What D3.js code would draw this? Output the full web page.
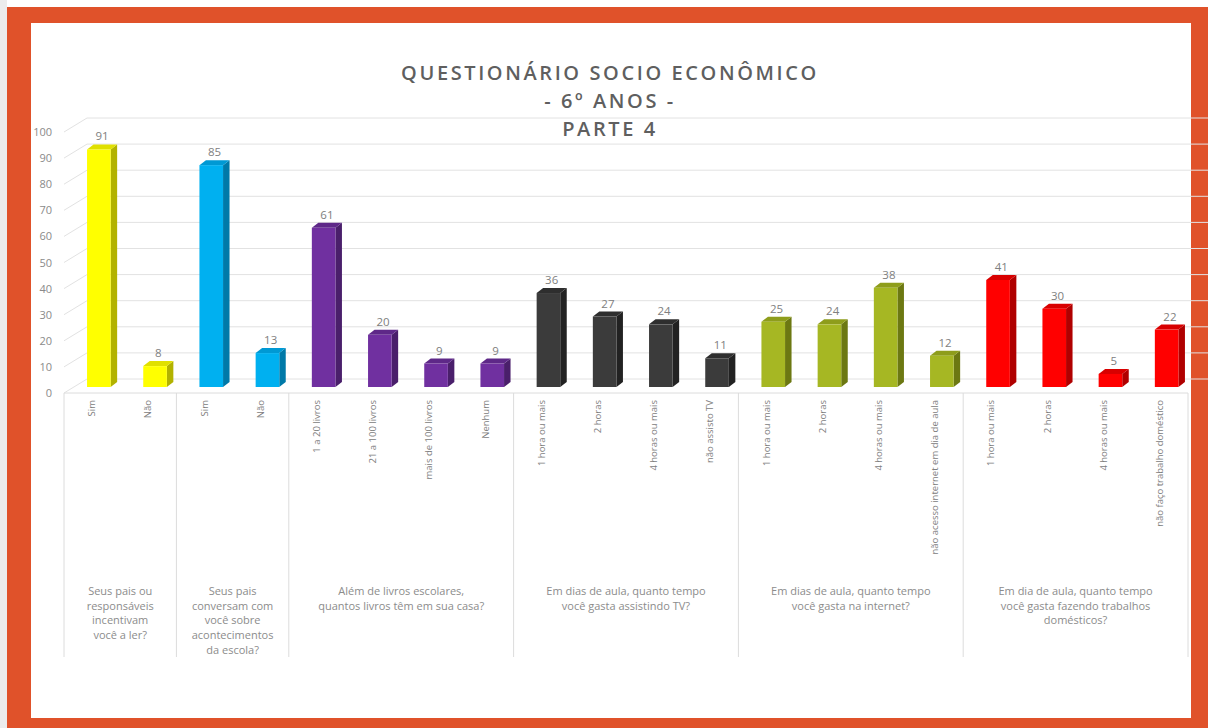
<!DOCTYPE html>
<html>
<head>
<meta charset="utf-8">
<script src="https://cdn.jsdelivr.net/npm/d3@7"></script>
<style>
  html, body { margin: 0; padding: 0; background: #ffffff; }
  svg { display: block; }
</style>
</head>
<body>
<svg id="chart" width="1208" height="728"></svg>
<script>
// Questionário socioeconômico – 6º anos – parte 4
const categories = [
  "Sim", "Não",
  "Sim", "Não",
  "1 a 20 livros", "21 a 100 livros", "mais de 100 livros", "Nenhum",
  "1 hora ou mais", "2 horas", "4 horas ou mais", "não assisto TV",
  "1 hora ou mais", "2 horas", "4 horas ou mais", "não acesso internet em dia de aula",
  "1 hora ou mais", "2 horas", "4 horas ou mais", "não faço trabalho doméstico"
];
const values = [91, 8, 85, 13, 61, 20, 9, 9, 36, 27, 24, 11, 25, 24, 38, 12, 41, 30, 5, 22];
const groupSizes = [2, 2, 4, 4, 4, 4];
const groupLabels = [
  ["Seus pais ou", "responsáveis", "incentivam", "você a ler?"],
  ["Seus pais", "conversam com", "você sobre", "acontecimentos", "da escola?"],
  ["Além de livros escolares,", "quantos livros têm em sua casa?"],
  ["Em dias de aula, quanto tempo", "você gasta assistindo TV?"],
  ["Em dias de aula, quanto tempo", "você gasta na internet?"],
  ["Em dia de aula, quanto tempo", "você gasta fazendo trabalhos", "domésticos?"]
];
const groupColors = [
  { front: "#ffff00", side: "#b2b200", top: "#e0e000" },
  { front: "#00b0f0", side: "#0079a8", top: "#0099d4" },
  { front: "#7030a0", side: "#4a1f6b", top: "#5e2888" },
  { front: "#3b3b3b", side: "#222222", top: "#2e2e2e" },
  { front: "#a6b723", side: "#6c7812", top: "#8e9d1b" },
  { front: "#ff0000", side: "#b00000", top: "#d80000" }
];
const yTicks = [0, 10, 20, 30, 40, 50, 60, 70, 80, 90, 100];
const titleLines = ["QUESTIONÁRIO SOCIO ECONÔMICO", "- 6º ANOS -", "PARTE 4"];

const svg = d3.select("#chart");
const W = 1208, H = 728;

// group index for every category
const groupOf = [];
groupSizes.forEach((n, g) => { for (let i = 0; i < n; i++) groupOf.push(g); });

// frame
svg.append("rect").attr("width", W).attr("height", H).attr("fill", "#ffffff");
svg.append("rect").attr("x", 0).attr("y", 0).attr("width", 7).attr("height", H).attr("fill", "#ececec");
svg.append("rect").attr("x", 7).attr("y", 7).attr("width", W - 7).attr("height", H - 7).attr("fill", "#e0522a");
svg.append("rect").attr("x", 31).attr("y", 23).attr("width", 1160).attr("height", 695).attr("fill", "#ffffff");

// scales
const x = d3.scaleBand().domain(d3.range(categories.length)).range([64, 1188]).padding(0);
const y = d3.scaleLinear().domain([0, 100]).range([393, 132]);
const bw = x.bandwidth();

// 3D wall offsets
const wallDX = 23, wallDY = -14;   // back wall
const barShift = -6;               // bars sit mid-depth
const dX = 6.5, dY = -5;           // bar depth

// back wall gridlines and left wall diagonals
const grid = svg.append("g");
yTicks.forEach(t => {
  grid.append("line")
    .attr("x1", 64 + wallDX).attr("x2", W)
    .attr("y1", y(t) + wallDY).attr("y2", y(t) + wallDY)
    .attr("stroke", "#e2e2e2").attr("stroke-width", 1);
  grid.append("line")
    .attr("x1", 64).attr("y1", y(t))
    .attr("x2", 64 + wallDX).attr("y2", y(t) + wallDY)
    .attr("stroke", "#e2e2e2").attr("stroke-width", 1);
});

// y axis labels
const yAxis = d3.axisLeft(y).tickValues(yTicks).tickSize(0).tickPadding(0);
const yG = svg.append("g").attr("transform", "translate(52,0)").call(yAxis);
yG.select(".domain").remove();
yG.selectAll("text")
  .attr("font-family", "Open Sans, sans-serif")
  .attr("font-size", 11)
  .attr("fill", "#8a8a8a");

// category table lines
const table = svg.append("g");
table.append("line")
  .attr("x1", 64).attr("x2", 1188).attr("y1", 393).attr("y2", 393)
  .attr("stroke", "#dcdcdc");
let start = 0;
const bounds = [0];
groupSizes.forEach(n => { start += n; bounds.push(start); });
bounds.forEach(b => {
  const bx = b < categories.length ? x(b) : x(categories.length - 1) + bw;
  table.append("line")
    .attr("x1", bx).attr("x2", bx).attr("y1", 393).attr("y2", 657)
    .attr("stroke", "#dcdcdc");
});

// bars
const bars = svg.append("g");
values.forEach((v, i) => {
  const c = groupColors[groupOf[i]];
  const x0 = x(i) + bw * 0.41;
  const w = bw * 0.42;
  const yb = y(0) + barShift;
  const yt = y(v) + barShift;
  bars.append("polygon")
    .attr("points", [[x0 + w, yt], [x0 + w + dX, yt + dY], [x0 + w + dX, yb + dY], [x0 + w, yb]].join(" "))
    .attr("fill", c.side);
  bars.append("polygon")
    .attr("points", [[x0, yt], [x0 + dX, yt + dY], [x0 + w + dX, yt + dY], [x0 + w, yt]].join(" "))
    .attr("fill", c.top);
  bars.append("rect")
    .attr("x", x0).attr("y", yt).attr("width", w).attr("height", yb - yt)
    .attr("fill", c.front);
  bars.append("text")
    .attr("x", x0 + (w + dX) / 2).attr("y", yt + dY - 4)
    .attr("text-anchor", "middle")
    .attr("font-family", "Open Sans, sans-serif")
    .attr("font-size", 11.5)
    .attr("fill", "#808080")
    .text(v);
});

// category labels (rotated)
const catG = svg.append("g");
categories.forEach((c, i) => {
  const cx = x(i) + bw / 2;
  catG.append("text")
    .attr("transform", `translate(${cx + 3},400) rotate(-90)`)
    .attr("text-anchor", "end")
    .attr("font-family", "Open Sans, sans-serif")
    .attr("font-size", 9.5)
    .attr("fill", "#808080")
    .text(c);
});

// group labels
const grpG = svg.append("g");
groupLabels.forEach((lines, g) => {
  const a = x(bounds[g]);
  const bEnd = bounds[g + 1] < categories.length ? x(bounds[g + 1]) : x(categories.length - 1) + bw;
  const cx = (a + bEnd) / 2;
  const t = grpG.append("text")
    .attr("text-anchor", "middle")
    .attr("font-family", "Open Sans, sans-serif")
    .attr("font-size", 11)
    .attr("fill", "#8c8c8c");
  lines.forEach((ln, k) => {
    t.append("tspan").attr("x", cx).attr("y", 595 + k * 14.7).text(ln);
  });
});

// title
const titleG = svg.append("g");
titleLines.forEach((ln, k) => {
  titleG.append("text")
    .attr("x", 610).attr("y", 80 + k * 28)
    .attr("text-anchor", "middle")
    .attr("font-family", "Open Sans, sans-serif")
    .attr("font-weight", 600)
    .attr("font-size", 20)
    .attr("letter-spacing", 2.6)
    .attr("fill", "#5f5f5f")
    .text(ln);
});

// left frame strip drawn last so it trims the axis labels
svg.append("rect").attr("x", 7).attr("y", 7).attr("width", 24).attr("height", H - 7).attr("fill", "#e0522a");
</script>
</body>
</html>
